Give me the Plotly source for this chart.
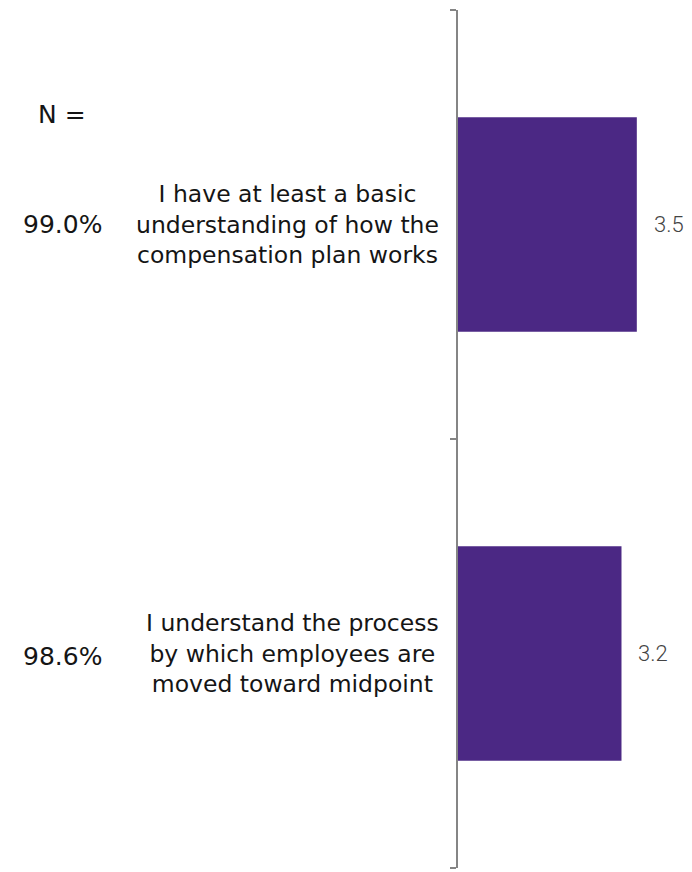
import plotly.graph_objects as go

# Survey statements, mean scores and response rates
statements = [
    "I have at least a basic<br>understanding of how the<br>compensation plan works",
    "I understand the process<br>by which employees are<br>moved toward midpoint",
]
scores = [3.5, 3.2]
score_labels = ["3.5", "3.2"]
response_rates = ["99.0%", "98.6%"]
header_label = "N ="

bar_color = "#4B2884"
axis_color = "#858585"
label_font = "DejaVu Sans"

positions = list(range(len(statements)))

# plot-area edges in pixels, used to place the left-hand column
plot_l, plot_r = 458, 692
plot_t, plot_b = 10, 868


def px_to_paper_x(px):
    return (px - plot_l) / (plot_r - plot_l)


def px_to_paper_y(px):
    return 1 - (px - plot_t) / (plot_b - plot_t)


fig = go.Figure()
fig.add_trace(go.Bar(
    x=scores,
    y=positions,
    orientation="h",
    width=0.5,
    marker=dict(color=bar_color, line=dict(width=0)),
    hoverinfo="skip",
))

annotations = []
for pos, stmt, val, vlab, rate in zip(positions, statements, scores, score_labels, response_rates):
    # statement text to the left of the axis
    annotations.append(dict(
        x=0, y=pos, xref="x", yref="y", text=stmt, showarrow=False,
        xanchor="right", yanchor="middle", align="center", xshift=-17,
        font=dict(family=label_font, size=23.5, color="#151515"),
    ))
    # score just past the end of the bar
    annotations.append(dict(
        x=val, y=pos, xref="x", yref="y", text=vlab, showarrow=False,
        xanchor="left", yanchor="middle", xshift=15,
        font=dict(family="Roboto", size=22, weight=300, color="#444444"),
    ))
    # response rate in the far-left column
    annotations.append(dict(
        x=px_to_paper_x(62), y=pos, xref="paper", yref="y", text=rate,
        showarrow=False, xanchor="center", yanchor="middle", yshift=-3 if pos else 0,
        font=dict(family=label_font, size=25, color="#151515"),
    ))
annotations.append(dict(
    x=px_to_paper_x(62), y=px_to_paper_y(114), xref="paper", yref="paper",
    text=header_label, showarrow=False, xanchor="center", yanchor="middle",
    font=dict(family=label_font, size=25, color="#151515"),
))

fig.update_layout(
    width=692, height=872,
    margin=dict(l=plot_l, r=692 - plot_r, t=plot_t, b=872 - plot_b),
    paper_bgcolor="white", plot_bgcolor="white",
    showlegend=False,
    xaxis=dict(range=[0, 4.58], visible=False, fixedrange=True),
    yaxis=dict(
        range=[1.5, -0.5],
        tickvals=[-0.5, 0.5, 1.5],
        showticklabels=False,
        ticks="outside", ticklen=6, tickwidth=2, tickcolor=axis_color,
        showline=True, linecolor=axis_color, linewidth=2,
        showgrid=False, zeroline=False,
    ),
    annotations=annotations,
)

fig.write_html("out.html")
